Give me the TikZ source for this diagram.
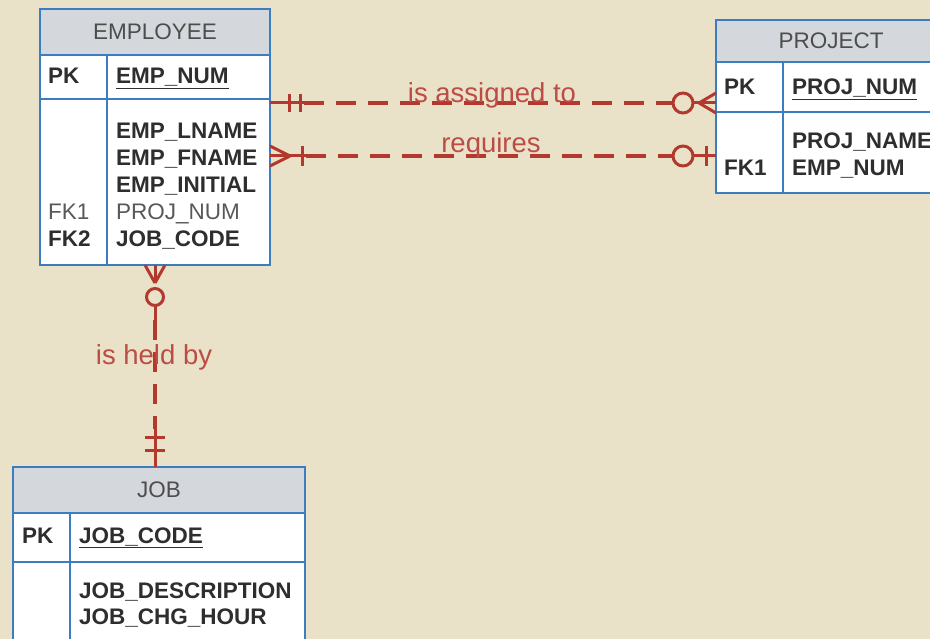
\documentclass[tikz,border=0pt]{standalone}
\usepackage{fontspec}
\setmainfont{Liberation Sans}
\usetikzlibrary{calc}

\definecolor{paper}{HTML}{EAE1C9}
\definecolor{hdrgrey}{HTML}{D4D8DC}
\definecolor{tblblue}{HTML}{3C7CC0}
\definecolor{relred}{HTML}{B3392F}
\definecolor{txtdark}{HTML}{2E2E2E}

\tikzset{
  tblhead/.style={draw=tblblue, line width=2.5pt, fill=hdrgrey, outer sep=0pt,
    text=txtdark!85, font=\fontsize{22.5}{26}\selectfont},
  tblbox/.style={draw=tblblue, line width=2.5pt, fill=white, outer sep=0pt},
  tblline/.style={tblblue, line width=2.5pt},
  fld/.style={anchor=base west, inner sep=0pt, text=txtdark,
    font=\fontsize{22.5}{27}\selectfont\bfseries},
  fldlight/.style={fld, text=txtdark!80, font=\fontsize{22.5}{27}\selectfont},
  rel/.style={relred, line width=3.5pt, dash pattern=on 20pt off 12pt},
  relsolid/.style={relred, line width=3pt},
  rellabel/.style={anchor=base, inner sep=0pt, text=relred!90,
    font=\fontsize{27.5}{30}\selectfont}
}

\begin{document}
\begin{tikzpicture}[x=1pt, y=-1pt]
  \useasboundingbox[fill=paper] (0,0) rectangle (930,639);
  \clip (0,0) rectangle (930,639);

  % EMPLOYEE
  \node[tblbox, minimum width=230pt, minimum height=166pt] (emp-body) at (155,182) {};
  \node[tblbox, minimum width=230pt, minimum height=44pt] (emp-pk) at (155,77) {};
  \node[tblhead, minimum width=230pt, minimum height=46pt] (emp-head) at (155,32) {EMPLOYEE};
  \draw[tblline] (107,55) -- (107,265);
  \node[fld] (emp-pk-lbl) at (48,84) {PK};
  \node[fld] (emp-num) at (116,84) {\underline{EMP\_NUM}};
  \node[fld] (emp-lname) at (116,139) {EMP\_LNAME};
  \node[fld] (emp-fname) at (116,166) {EMP\_FNAME};
  \node[fld] (emp-initial) at (116,193) {EMP\_INITIAL};
  \node[fldlight] (emp-fk1) at (48,220) {FK1};
  \node[fldlight] (emp-proj) at (116,220) {PROJ\_NUM};
  \node[fld] (emp-fk2) at (48,247) {FK2};
  \node[fld] (emp-job) at (116,247) {JOB\_CODE};

  % PROJECT
  \node[tblbox, minimum width=230pt, minimum height=81pt] (prj-body) at (831,152.5) {};
  \node[tblbox, minimum width=230pt, minimum height=50pt] (prj-pk) at (831,87) {};
  \node[tblhead, minimum width=230pt, minimum height=42pt] (prj-head) at (831,41) {PROJECT};
  \draw[tblline] (783,62) -- (783,193);
  \node[fld] (prj-pk-lbl) at (724,95) {PK};
  \node[fld] (prj-num) at (792,95) {\underline{PROJ\_NUM}};
  \node[fld] (prj-name) at (792,149) {PROJ\_NAME};
  \node[fld] (prj-fk1) at (724,176) {FK1};
  \node[fld] (prj-emp) at (792,176) {EMP\_NUM};

  % JOB
  \node[tblbox, minimum width=292pt, minimum height=100pt] (job-body) at (159,612) {};
  \node[tblbox, minimum width=292pt, minimum height=49pt] (job-pk) at (159,537.5) {};
  \node[tblhead, minimum width=292pt, minimum height=46pt] (job-head) at (159,490) {JOB};
  \draw[tblline] (70,513) -- (70,660);
  \node[fld] (job-pk-lbl) at (22,543) {PK};
  \node[fld] (job-code) at (79,543) {\underline{JOB\_CODE}};
  \node[fld] (job-desc) at (79,598) {JOB\_DESCRIPTION};
  \node[fld] (job-chg) at (79,624) {JOB\_CHG\_HOUR};

  % end points on the tables
  \coordinate (emp-asg) at (emp-body.east |- 0,103);
  \coordinate (prj-asg) at (prj-pk.west |- 0,103);
  \coordinate (emp-req) at (emp-body.east |- 0,156);
  \coordinate (prj-req) at (prj-body.west |- 0,156);
  \coordinate (emp-held) at (emp-body.south);
  \coordinate (job-held) at (emp-body.south |- job-head.north);

  % is assigned to
  \draw[rel] ($(emp-asg)+(34,0)$) -- ($(prj-asg)+(-43,0)$);
  \draw[relsolid] (emp-asg) -- ++(34,0);
  \draw[relsolid] ($(emp-asg)+(19,-9)$) -- ++(0,18);
  \draw[relsolid] ($(emp-asg)+(30,-9)$) -- ++(0,18);
  \draw[relsolid] ($(prj-asg)+(-33,0)$) circle (10pt);
  \draw[relsolid] ($(prj-asg)+(-23,0)$) -- (prj-asg);
  \draw[relsolid] ($(prj-asg)+(-17,0)$) -- ++(17,-10);
  \draw[relsolid] ($(prj-asg)+(-17,0)$) -- ++(17,10);
  \node[rellabel] (asg-lbl) at (492,103) {is assigned to};

  % requires
  \draw[rel] ($(emp-req)+(36,0)$) -- ($(prj-req)+(-43,0)$);
  \draw[relsolid] (emp-req) -- ++(36,0);
  \draw[relsolid] ($(emp-req)+(20,0)$) -- ++(-20,-10);
  \draw[relsolid] ($(emp-req)+(20,0)$) -- ++(-20,10);
  \draw[relsolid] ($(emp-req)+(32,-10)$) -- ++(0,20);
  \draw[relsolid] ($(prj-req)+(-33,0)$) circle (10pt);
  \draw[relsolid] ($(prj-req)+(-23,0)$) -- (prj-req);
  \draw[relsolid] ($(prj-req)+(-10,-10)$) -- ++(0,20);
  \node[rellabel] (req-lbl) at (491,153) {requires};

  % is held by
  \draw[rel] ($(emp-held)+(0,55)$) -- ($(job-held)+(0,-38)$);
  \draw[relsolid] ($(emp-held)+(0,41)$) -- ++(0,14);
  \draw[relsolid] ($(emp-held)+(0,32)$) circle (8.5pt);
  \draw[relsolid] ($(emp-held)+(0,18)$) -- (emp-held);
  \draw[relsolid] ($(emp-held)+(0,18)$) -- ++(-10,-18);
  \draw[relsolid] ($(emp-held)+(0,18)$) -- ++(10,-18);
  \draw[relsolid] ($(job-held)+(0,-38)$) -- (job-held);
  \draw[relsolid] ($(job-held)+(-10,-30)$) -- ++(20,0);
  \draw[relsolid] ($(job-held)+(-10,-17)$) -- ++(20,0);
  \node[rellabel] (held-lbl) at (154,364) {is held by};
\end{tikzpicture}
\end{document}
